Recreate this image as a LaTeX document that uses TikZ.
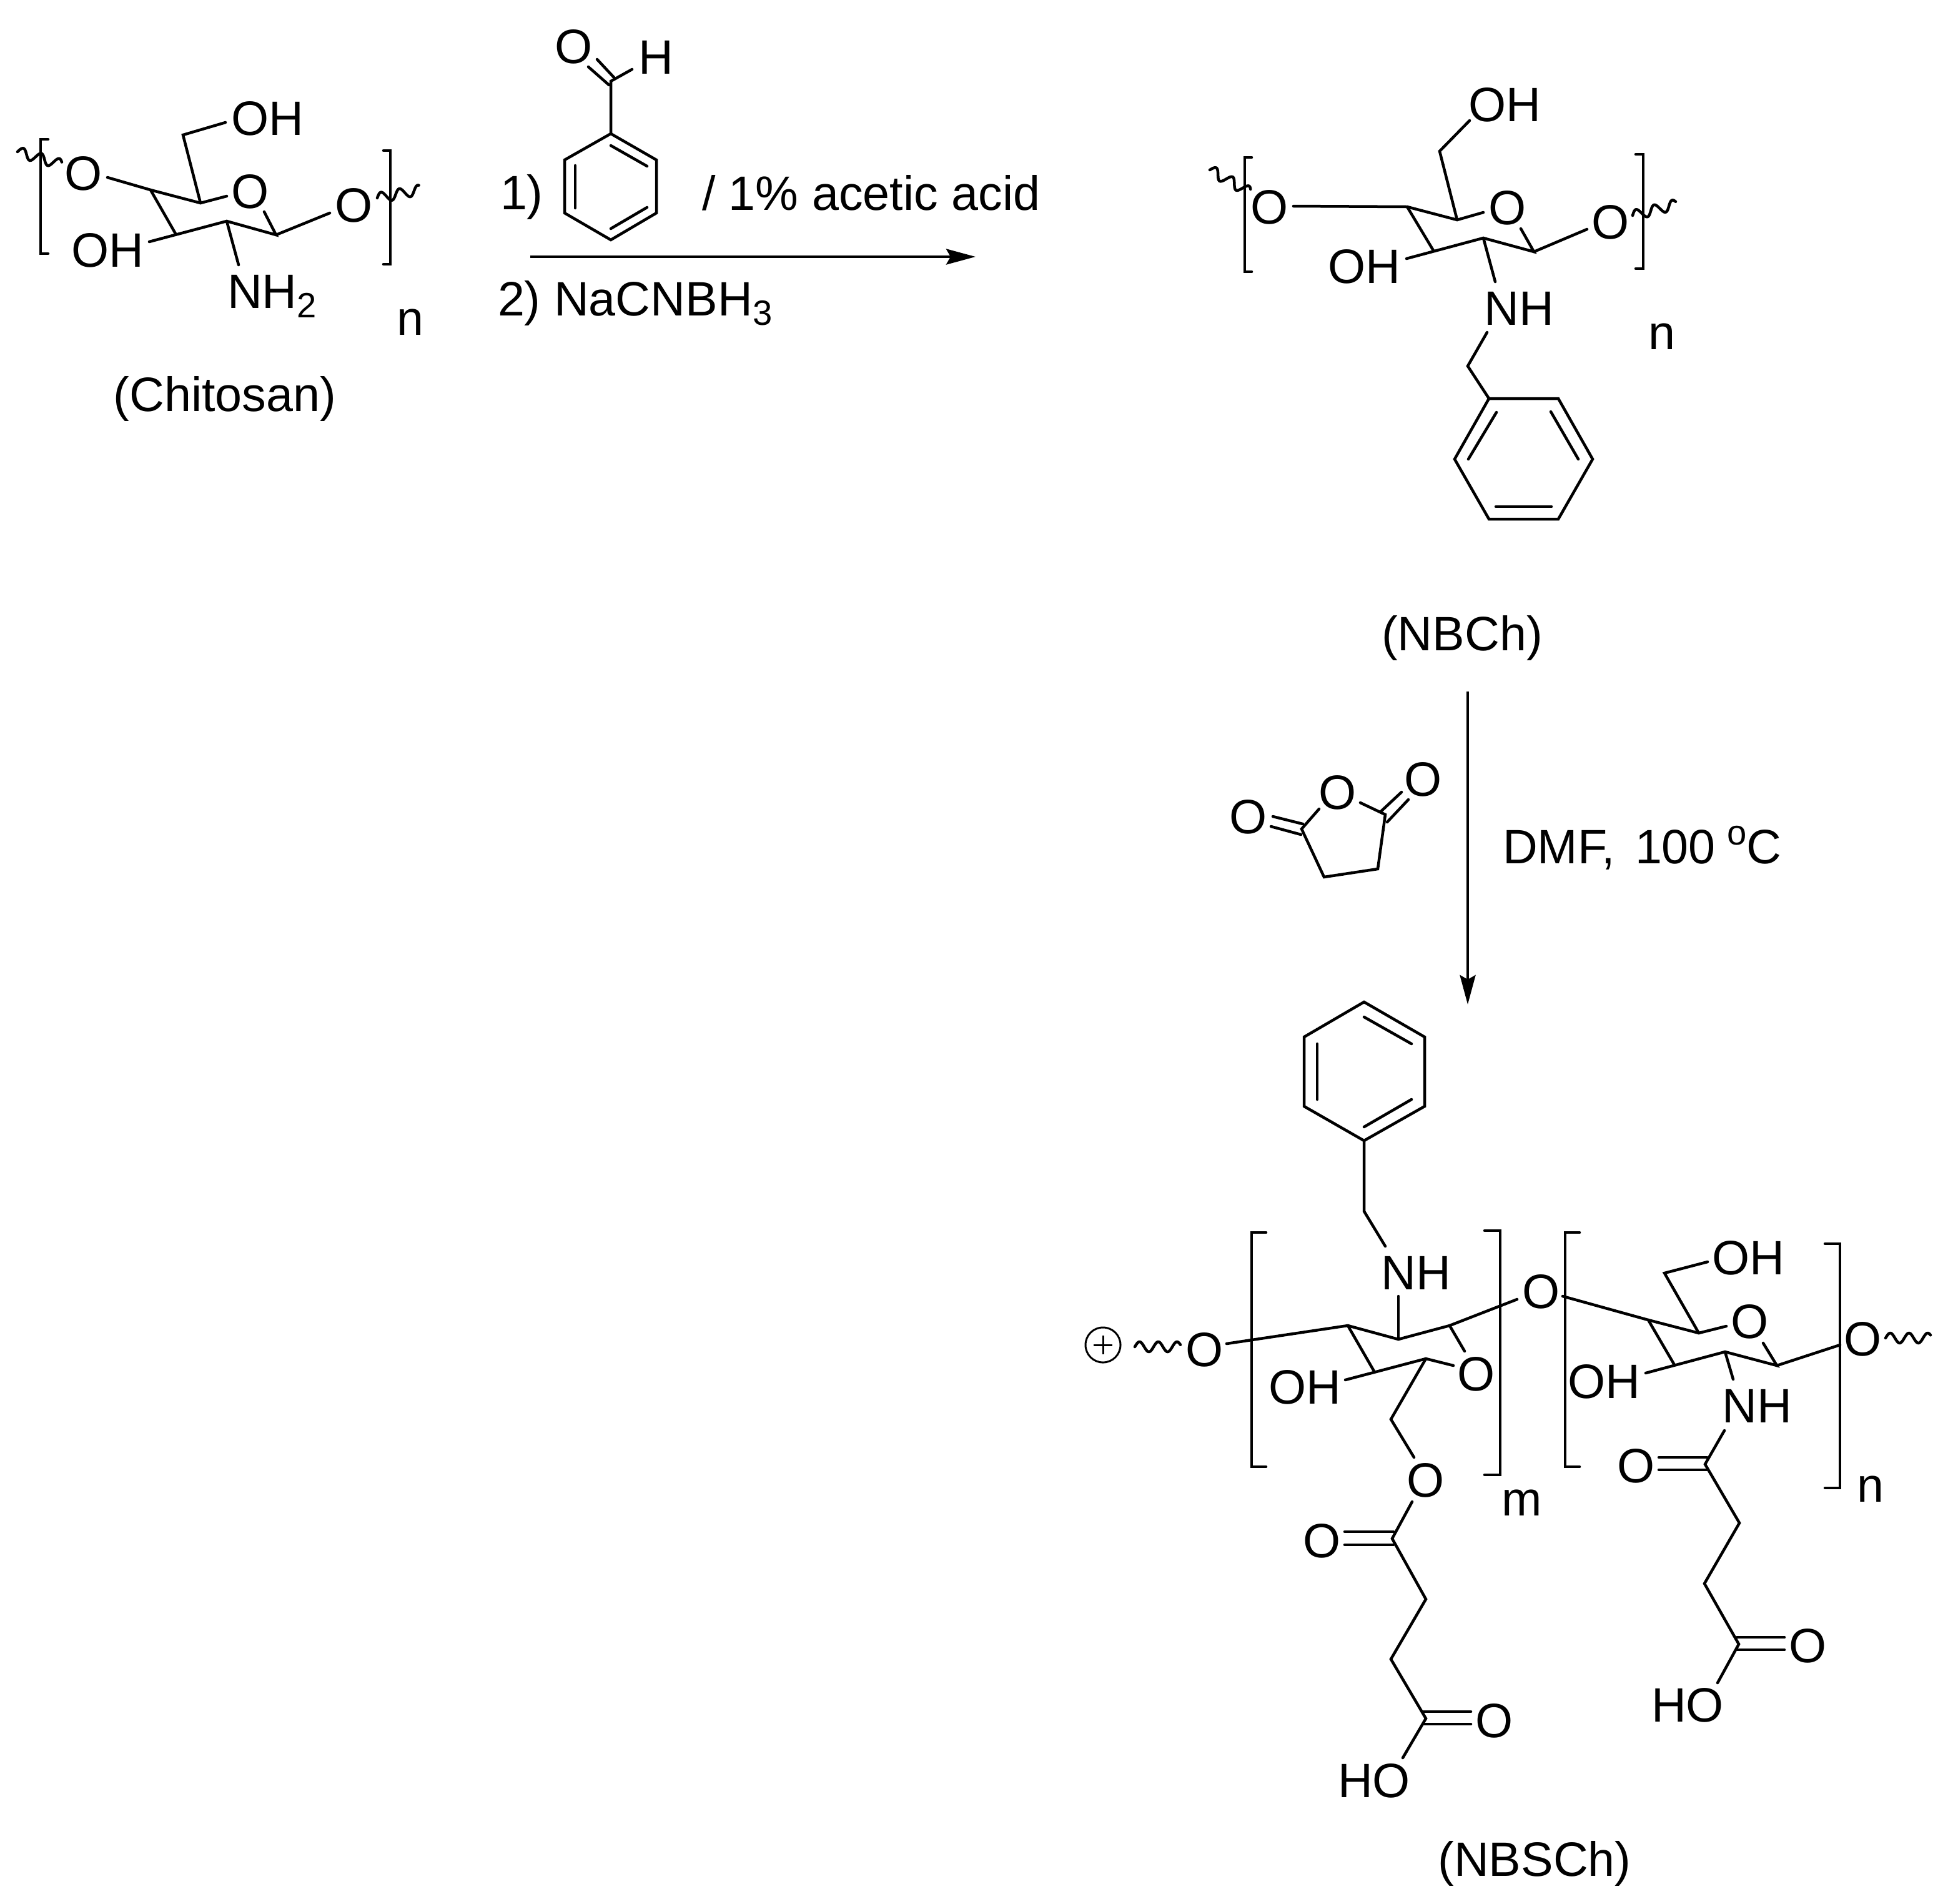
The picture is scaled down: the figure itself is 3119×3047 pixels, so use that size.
\documentclass[tikz,border=0pt]{standalone}
\usepackage{fontspec}
\setmainfont{Liberation Sans}
\usetikzlibrary{arrows.meta}
\newcommand{\subtwo}[1]{\raisebox{-9pt}{\fontsize{32}{32}\selectfont #1}}
\newcommand{\supo}{\raisebox{17pt}{\fontsize{32}{32}\selectfont o}}
\newcommand{\wavebond}[4]{%
  \pgfmathsetmacro{\wL}{veclen(#3-#1,#4-#2)}%
  \pgfmathsetmacro{\wN}{\wL/30}%
  \draw[bond,smooth] plot[domain=0:1,samples=61,variable=\wt]
    ({#1+\wt*(#3-#1)+8*sin(\wt*\wN*360)*(#4-#2)/\wL},
     {#2+\wt*(#4-#2)-8*sin(\wt*\wN*360)*(#3-#1)/\wL});}
\tikzset{
  bond/.style={line width=0.09cm,line cap=round,line join=miter,black},
  rxn/.style={line width=0.09cm,black,-{Stealth[length=0.94cm,width=0.5cm,inset=0.14cm]}},
  atom/.style={inner sep=0pt,outer sep=0pt,font=\fontsize{44}{44}\selectfont},
  lab/.style={atom,anchor=base west},
  labc/.style={atom,anchor=base}
}
\begin{document}
\begin{tikzpicture}[x=0.02cm,y=-0.02cm]
\useasboundingbox (0,0) rectangle (3119,3047);
\fill[white] (0,0) rectangle (3119,3047);

% ---------- Chitosan ----------
\wavebond{28}{243}{98}{263}
\draw[bond] (77,223) -- (65,223) -- (65,406) -- (77,406);
\node[atom] (c1) at (134,278) {O};
\draw[bond] (172,284) -- (241,304) -- (321,325) -- (363,314);
\node[atom] (c2) at (401,307) {O};
\draw[bond] (321,325) -- (293,216) -- (361,196);
\node[atom] (c3) at (428,190) {OH};
\draw[bond] (241,304) -- (281,374);
\draw[bond] (239,387) -- (363,354) -- (442,376) -- (423,339);
\node[atom] (c4) at (172,401) {OH};
\draw[bond] (442,376) -- (528,341);
\node[atom] (c5) at (567,329) {O};
\draw[bond] (363,354) -- (382,424);
\node[lab] (c6) at (364,493) {NH\subtwo{2}};
\node[lab] (c7) at (635,536) {n};
\wavebond{604}{317}{672}{304}
\draw[bond] (614,241) -- (625,241) -- (625,423) -- (614,423);
\node[labc] (c8) at (360,658) {(Chitosan)};

% ---------- Benzaldehyde and reaction 1 ----------
\node[atom] (b1) at (919,75) {O};
\node[atom] (b2) at (1050,92) {H};
\draw[bond] (956,95) -- (984,125);
\draw[bond] (942,107) -- (975,136);
\draw[bond] (1012,111) -- (978,130) -- (978,214);
\draw[bond] (978,214) -- (904,256) -- (904,341) -- (978,384) -- (1051,341) -- (1051,256) -- cycle;
\draw[bond] (978,233) -- (1036,266);
\draw[bond] (921,265) -- (921,333);
\draw[bond] (978,366) -- (1036,332);
\node[lab] (t1) at (801,335) {1)};
\node[lab] (t2) at (1124,336) {/ 1\% acetic acid};
\node[lab] (t3) at (797,505) {2) NaCNBH\subtwo{3}};
\coordinate (a1s) at (849,411);
\coordinate (a1e) at (1562,411);
\draw[rxn] (a1s) -- (a1e);

% ---------- NBCh ----------
\wavebond{1937}{272}{2000}{307}
\draw[bond] (2004,252) -- (1993,252) -- (1993,435) -- (2004,435);
\node[atom] (n1) at (2033,332) {O};
\draw[bond] (2071,330) -- (2253,331) -- (2333,352) -- (2375,340);
\node[atom] (n2) at (2414,333) {O};
\draw[bond] (2333,352) -- (2305,242) -- (2353,193);
\node[atom] (n3) at (2409,168) {OH};
\draw[bond] (2253,331) -- (2295,401);
\draw[bond] (2252,414) -- (2375,381) -- (2456,403) -- (2435,366);
\node[atom] (n4) at (2184,427) {OH};
\draw[bond] (2456,403) -- (2541,367);
\node[atom] (n5) at (2579,356) {O};
\draw[bond] (2375,381) -- (2394,451);
\node[atom] (n6) at (2432,494) {NH};
\draw[bond] (2381,532) -- (2350,586) -- (2384,638);
\draw[bond] (2384,638) -- (2495,638) -- (2550,735) -- (2495,831) -- (2384,831) -- (2329,735) -- cycle;
\draw[bond] (2396,660) -- (2351,735);
\draw[bond] (2483,659) -- (2527,735);
\draw[bond] (2395,811) -- (2484,811);
\draw[bond] (2619,247) -- (2631,247) -- (2631,430) -- (2619,430);
\wavebond{2614}{345}{2684}{327}
\node[lab] (n7) at (2639,559) {n};
\node[labc] (n8) at (2341,1041) {(NBCh)};

% ---------- Reaction 2 ----------
\coordinate (a2s) at (2350,1107);
\coordinate (a2e) at (2350,1608);
\draw[rxn] (a2s) -- (a2e);
\node[atom] (s1) at (1999,1308) {O};
\draw[bond] (2038,1307) -- (2086,1319);
\draw[bond] (2035,1323) -- (2083,1336);
\draw[bond] (2112,1295) -- (2084,1327) -- (2120,1404) -- (2206,1391) -- (2218,1304) -- (2178,1285);
\node[atom] (s2) at (2142,1269) {O};
\draw[bond] (2212,1298) -- (2244,1268);
\draw[bond] (2221,1316) -- (2255,1280);
\node[atom] (s3) at (2279,1248) {O};
\node[lab] (t4) at (2406,1382) {DMF,\hspace{18pt}100\hspace{10.5pt}\supo C};

% ---------- NBSCh benzyl ----------
\draw[bond] (2184,1604) -- (2281,1660) -- (2281,1771) -- (2184,1826) -- (2088,1771) -- (2088,1660) -- cycle;
\draw[bond] (2184,1628) -- (2260,1671);
\draw[bond] (2109,1671) -- (2109,1760);
\draw[bond] (2184,1804) -- (2260,1760);
\draw[bond] (2184,1826) -- (2184,1939) -- (2218,1995);
\node[atom] (p1) at (2267,2038) {NH};
\draw[bond] (2239,2075) -- (2239,2144);

% ---------- NBSCh left unit ----------
\draw[line width=0.06cm] (1766,2153) circle (28);
\draw[line width=0.06cm] (1751,2153) -- (1781,2153) (1766,2138) -- (1766,2168);
\wavebond{1817}{2156}{1890}{2156}
\node[atom] (p2) at (1929,2161) {O};
\draw[bond] (1964,2151) -- (2158,2122) -- (2239,2144) -- (2321,2122) -- (2429,2080);
\node[atom] (p3) at (2468,2068) {O};
\draw[bond] (2321,2122) -- (2345,2163);
\node[atom] (p4) at (2364,2200) {O};
\draw[bond] (2327,2186) -- (2283,2175) -- (2154,2209);
\draw[bond] (2158,2122) -- (2200,2195);
\node[atom] (p5) at (2089,2221) {OH};
\draw[bond] (2283,2175) -- (2227,2272) -- (2264,2333);
\node[atom] (p6) at (2283,2370) {O};
\draw[bond] (2261,2404) -- (2229,2463) -- (2283,2560) -- (2227,2656) -- (2283,2751) -- (2246,2814);
\draw[bond] (2153,2452) -- (2231,2452);
\draw[bond] (2153,2473) -- (2231,2473);
\node[atom] (p7) at (2117,2467) {O};
\draw[bond] (2279,2740) -- (2355,2740);
\draw[bond] (2279,2760) -- (2355,2760);
\node[atom] (p8) at (2393,2755) {O};
\node[atom] (p9) at (2200,2851) {HO};
\draw[bond] (2027,1973) -- (2004,1973) -- (2004,2348) -- (2027,2348);
\draw[bond] (2377,1970) -- (2402,1970) -- (2402,2361) -- (2377,2361);
\node[lab] (p10) at (2404,2426) {m};
\node[labc] (p11) at (2457,3003) {(NBSCh)};

% ---------- NBSCh right unit ----------
\draw[bond] (2529,1973) -- (2506,1973) -- (2506,2348) -- (2529,2348);
\draw[bond] (2502,2075) -- (2639,2113) -- (2720,2134) -- (2764,2123);
\node[atom] (q1) at (2802,2116) {O};
\draw[bond] (2720,2134) -- (2665,2038) -- (2734,2020);
\node[atom] (q2) at (2799,2014) {OH};
\draw[bond] (2639,2113) -- (2681,2185);
\draw[bond] (2635,2198) -- (2762,2164) -- (2845,2186) -- (2823,2150);
\node[atom] (q3) at (2568,2212) {OH};
\draw[bond] (2845,2186) -- (2946,2153);
\node[atom] (q4) at (2983,2144) {O};
\draw[bond] (2922,1991) -- (2946,1991) -- (2946,2382) -- (2922,2382);
\wavebond{3019}{2142}{3091}{2142}
\node[lab] (q5) at (2973,2404) {n};
\draw[bond] (2762,2164) -- (2775,2208);
\node[atom] (q6) at (2813,2251) {NH};
\draw[bond] (2761,2290) -- (2730,2344) -- (2785,2438) -- (2729,2535) -- (2784,2632) -- (2750,2694);
\draw[bond] (2656,2333) -- (2733,2333);
\draw[bond] (2656,2353) -- (2733,2353);
\node[atom] (q7) at (2620,2347) {O};
\draw[bond] (2781,2621) -- (2857,2621);
\draw[bond] (2781,2641) -- (2857,2641);
\node[atom] (q8) at (2895,2635) {O};
\node[atom] (q9) at (2702,2730) {HO};
\end{tikzpicture}
\end{document}
